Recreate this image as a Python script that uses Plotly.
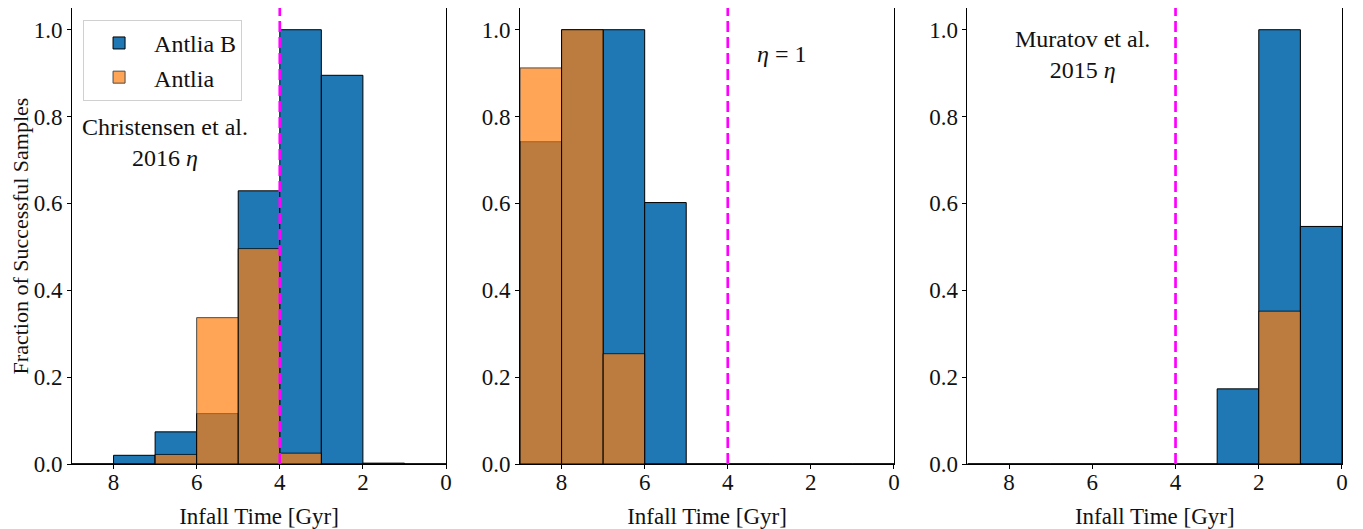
import plotly.graph_objects as go
from plotly.subplots import make_subplots

# Histogram bins (Gyr): centers of 1-Gyr bins
bin_centers = [8.5, 7.5, 6.5, 5.5, 4.5, 3.5, 2.5, 1.5, 0.5]

# Panel 1: Christensen et al. 2016 eta
p1_antlia_b = [0.0, 0.020, 0.074, 0.116, 0.629, 1.0, 0.895, 0.002, 0.0]
p1_antlia = [0.0, 0.0, 0.022, 0.337, 0.496, 0.025, 0.0, 0.0, 0.0]
# Panel 2: eta = 1
p2_antlia_b = [0.742, 1.0, 1.0, 0.602, 0.0, 0.0, 0.0, 0.0, 0.0]
p2_antlia = [0.912, 1.0, 0.254, 0.0, 0.0, 0.0, 0.0, 0.0, 0.0]
# Panel 3: Muratov et al. 2015 eta
p3_antlia_b = [0.0, 0.0, 0.0, 0.0, 0.0, 0.0, 0.173, 1.0, 0.547]
p3_antlia = [0.0, 0.0, 0.0, 0.0, 0.0, 0.0, 0.0, 0.352, 0.0]

infall_marker = 4.0
panel_labels = ["Christensen et al.<br>2016 <i>η</i>", "<i>η</i> = 1", "Muratov et al.<br>2015 <i>η</i>"]
label_pos = [(0.249, 0.705), (0.70, 0.90), (0.306, 0.897)]

x_ticks = [0, 2, 4, 6, 8]
y_ticks = [0.0, 0.2, 0.4, 0.6, 0.8, 1.0]

BLUE = "#1f77b4"
ORANGE = "#ff7f0e"
FONT = "Liberation Serif"

fig = make_subplots(rows=1, cols=3)

panels = [(p1_antlia_b, p1_antlia), (p2_antlia_b, p2_antlia), (p3_antlia_b, p3_antlia)]
for i, (vb, va) in enumerate(panels):
    col = i + 1
    fig.add_trace(go.Bar(x=bin_centers, y=vb, width=1, name="Antlia B",
                         marker=dict(color=BLUE, line=dict(color="black", width=1)),
                         showlegend=(i == 0)), row=1, col=col)
    fig.add_trace(go.Bar(x=bin_centers, y=va, width=1, name="Antlia",
                         marker=dict(color=ORANGE, line=dict(color="black", width=1)),
                         opacity=0.7, showlegend=(i == 0)), row=1, col=col)
    fig.add_vline(x=infall_marker, line=dict(color="magenta", width=2.7, dash="11px,5px"),
                  row=1, col=col)

domains = [[0.0, 0.2945], [0.3528, 0.6472], [0.7051, 1.0]]
for i in range(3):
    sfx = "" if i == 0 else str(i + 1)
    fig.layout["xaxis" + sfx].update(
        domain=domains[i], range=[9, 0], tickvals=x_ticks, ticks="outside", ticklen=4,
        tickcolor="black", showline=True, linecolor="black", linewidth=1, mirror=True,
        showgrid=False, zeroline=False, tickfont=dict(size=23, color="#111"),
        automargin=False, ticklabelstandoff=-7,
        title=dict(text="Infall Time [Gyr]", font=dict(size=23, color="#111"), standoff=15))
    fig.layout["yaxis" + sfx].update(
        range=[0, 1.05], tickvals=y_ticks, tickformat=".1f", ticks="outside", ticklen=4,
        tickcolor="black", showline=True, linecolor="black", linewidth=1, mirror=True,
        showgrid=False, zeroline=False, tickfont=dict(size=23, color="#111"),
        automargin=False)
    xr = "x" + sfx + " domain"
    yr = "y" + sfx + " domain"
    fig.add_annotation(text=panel_labels[i], xref=xr, yref=yr, x=label_pos[i][0], y=label_pos[i][1],
                       showarrow=False, xanchor="center", yanchor="middle",
                       font=dict(size=24, color="#111", family=FONT))

fig.layout.yaxis.title = dict(text="Fraction of Successful Samples", font=dict(size=22, color="#111"), standoff=3)

# The page body adds an 8px margin, so the figure is sized to fit the window after that offset.
fig.update_layout(
    barmode="overlay",
    width=1355, height=521,
    margin=dict(l=64, r=21, t=0, b=65, autoexpand=False),
    paper_bgcolor="white", plot_bgcolor="white",
    font=dict(family=FONT, size=22, color="#111"),
    legend=dict(x=0.0087, y=0.974, xanchor="left", yanchor="top",
                bgcolor="rgba(255,255,255,0.8)", bordercolor="#d0d0d0", borderwidth=1,
                font=dict(size=24, family=FONT), itemwidth=60, tracegroupgap=0),
)

fig.write_html("out.html")
